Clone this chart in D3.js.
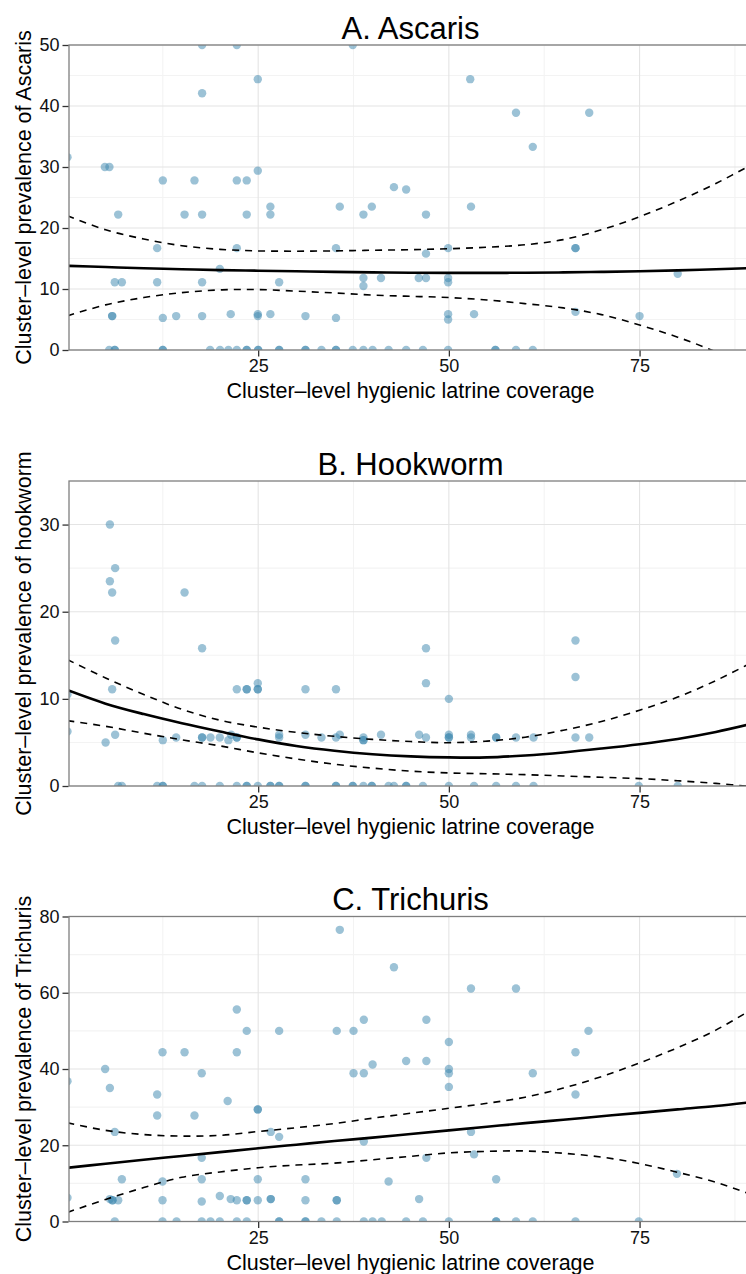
<!DOCTYPE html>
<html>
<head>
<meta charset="utf-8">
<script src="https://cdn.jsdelivr.net/npm/d3@7"></script>
<style>
  html, body { margin: 0; padding: 0; background: #ffffff; }
  svg { display: block; font-family: "Liberation Sans", Arial, Helvetica, sans-serif; }
</style>
</head>
<body>
<svg id="chart" width="746" height="1274"></svg>
<script>
// Cluster-level helminth prevalence (%) against hygienic latrine coverage (%)
const panelTitles = ["A. Ascaris", "B. Hookworm", "C. Trichuris"];
const yTitles = [
  "Cluster\u2013level prevalence of Ascaris",
  "Cluster\u2013level prevalence of hookworm",
  "Cluster\u2013level prevalence of Trichuris"
];
const xTitle = "Cluster\u2013level hygienic latrine coverage";
const xTicks = [25, 50, 75];
const xMinor = [12.5, 37.5, 62.5, 87.5];
const yMaxes = [50, 35, 80];
const yTickSets = [[0, 10, 20, 30, 40, 50], [0, 10, 20, 30], [0, 20, 40, 60, 80]];
const yMinorSets = [[5, 15, 25, 35, 45], [5, 15, 25], [10, 30, 50, 70]];

// [coverage, prevalence] per cluster
const ascarisPoints = [
  [17.65,50],[22.2,50],[37.4,50],[24.95,44.4],[52.8,44.4],[17.65,42.1],[58.8,38.9],[68.4,38.9],
  [61.0,33.3],[0,31.6],[4.9,30],[5.5,30],[12.5,27.8],[16.65,27.8],[22.2,27.8],[23.5,27.8],
  [24.95,29.4],[42.8,26.7],[44.4,26.3],[6.65,22.2],[15.35,22.2],[17.65,22.2],[23.5,22.2],
  [26.6,23.5],[26.6,22.2],[35.7,23.5],[38.8,22.2],[39.9,23.5],[52.9,23.5],[47.0,22.2],
  [11.76,16.7],[22.2,16.7],[35.2,16.7],[47.0,15.8],[49.9,16.7],[66.6,16.7],[66.6,16.7],
  [19.97,13.3],[6.2,11.1],[7.13,11.1],[11.76,11.1],[17.65,11.1],[27.75,11.1],[38.8,11.8],
  [38.8,10.5],[41.1,11.8],[46.05,11.8],[47.0,11.8],[49.9,11.8],[49.9,11.1],[80.0,12.5],
  [5.86,5.56],[5.86,5.56],[12.5,5.26],[14.25,5.56],[17.65,5.56],[21.4,5.88],[24.95,5.56],
  [24.95,5.88],[26.6,5.88],[31.2,5.56],[35.2,5.26],[49.9,5.88],[49.9,5.0],[53.3,5.88],
  [66.6,6.25],[75.0,5.56],
  [5.47,0],[6.2,0],[6.2,0],[12.5,0],[12.5,0],[18.7,0],[20.0,0],[21.1,0],[22.2,0],[23.5,0],
  [23.5,0],[25.0,0],[25.0,0],[27.75,0],[27.75,0],[31.2,0],[31.2,0],[33.3,0],[35.2,0],[35.2,0],
  [37.4,0],[38.8,0],[40.0,0],[42.1,0],[44.4,0],[46.6,0],[49.9,0],[56.1,0],[56.1,0],[58.8,0],[61.0,0]
];
const hookwormPoints = [
  [5.56,30],[6.25,25],[5.56,23.5],[5.86,22.2],[15.35,22.2],[6.25,16.7],[17.65,15.8],[47.0,15.8],
  [66.6,16.7],[47.0,11.8],[66.6,12.5],[50.0,10.0],[5.86,11.1],[22.2,11.1],[23.5,11.1],[23.5,11.1],
  [24.95,11.1],[24.95,11.1],[24.95,11.8],[31.2,11.1],[35.2,11.1],[0,10.5],[0,6.25],[5.0,5.0],
  [6.25,5.88],[12.5,5.26],[14.25,5.56],[17.65,5.56],[17.65,5.56],[18.75,5.56],[19.97,5.56],
  [21.1,5.26],[21.45,5.88],[22.2,5.56],[22.2,5.56],[27.75,5.56],[27.75,5.88],[31.2,5.88],
  [33.3,5.56],[35.2,5.56],[35.7,5.88],[38.8,5.56],[38.8,5.26],[38.8,5.26],[41.1,5.88],[46.1,5.88],
  [47.0,5.56],[50.0,5.88],[50.0,5.56],[50.0,5.56],[52.9,5.88],[52.9,5.56],[56.2,5.56],[56.2,5.56],
  [58.8,5.56],[61.1,5.56],[66.6,5.56],[68.4,5.56],
  [6.65,0],[7.13,0],[11.76,0],[12.5,0],[12.5,0],[16.65,0],[17.65,0],[19.97,0],[22.2,0],[23.5,0],
  [23.5,0],[24.95,0],[26.6,0],[26.6,0],[27.75,0],[27.75,0],[31.2,0],[31.2,0],[35.2,0],[35.2,0],
  [37.4,0],[37.4,0],[38.8,0],[39.9,0],[39.9,0],[42.1,0],[42.8,0],[44.4,0],[44.4,0],[46.6,0],
  [50.0,0],[53.3,0],[56.2,0],[58.8,0],[61.1,0],[74.9,0],[80.0,0]
];
const trichurisPoints = [
  [35.7,76.5],[42.8,66.7],[52.9,61.1],[58.8,61.1],[22.2,55.6],[38.85,52.9],[47.05,52.9],[23.5,50],
  [27.75,50],[35.3,50],[37.5,50],[68.3,50],[50,47.1],[12.46,44.4],[15.35,44.4],[22.2,44.4],
  [66.6,44.4],[44.4,42.1],[47.05,42.1],[40.0,41.2],[4.94,40.0],[50,40],[17.6,38.9],[37.5,38.9],
  [38.85,38.9],[50,38.9],[61.0,38.9],[0,36.8],[5.56,35.0],[50,35.3],[11.76,33.3],[66.6,33.3],
  [21.0,31.6],[24.95,29.4],[24.95,29.4],[11.76,27.8],[16.65,27.8],[6.2,23.5],[26.65,23.5],
  [52.9,23.5],[27.75,22.2],[38.85,21.0],[53.3,17.6],[17.6,16.7],[47.05,16.7],[79.9,12.5],
  [7.13,11.1],[17.6,11.1],[24.95,11.1],[31.2,11.1],[56.2,11.1],[12.46,10.5],[42.1,10.5],
  [19.97,6.7],[0,6.25],[5.56,5.88],[5.9,5.56],[5.9,5.56],[6.65,5.56],[12.46,5.56],[17.6,5.26],
  [21.4,5.88],[22.2,5.56],[23.5,5.56],[23.5,5.56],[24.95,5.56],[26.65,5.88],[26.65,5.88],
  [31.2,5.56],[35.3,5.56],[35.3,5.56],[46.1,5.88],
  [6.2,0],[12.46,0],[14.3,0],[17.6,0],[18.75,0],[19.97,0],[22.2,0],[23.5,0],[27.75,0],[27.75,0],
  [31.2,0],[31.2,0],[33.3,0],[35.3,0],[38.85,0],[40.0,0],[41.2,0],[44.4,0],[46.6,0],[50,0],
  [56.2,0],[56.2,0],[58.8,0],[61.0,0],[66.6,0],[74.9,0]
];

// Fitted curve with 95% confidence band, sampled along coverage
const fitX = [0, 5, 10, 15, 20, 25, 30, 35, 40, 45, 50, 55, 60, 65, 70, 75, 80, 85, 90];
const ascarisFit   = [13.8,13.6,13.4,13.25,13.1,13.0,12.9,12.8,12.72,12.67,12.65,12.65,12.66,12.72,12.8,12.9,13.05,13.25,13.45];
const ascarisUpper = [22.0,19.7,18.2,17.1,16.5,16.25,16.2,16.25,16.35,16.45,16.6,16.85,17.25,18.1,19.7,21.85,24.4,27.3,30.6];
const ascarisLower = [5.6,7.4,8.6,9.4,9.85,9.9,9.65,9.35,9.0,8.8,8.6,8.2,7.6,6.9,5.8,4.1,2.1,-0.3,-3.2];
const hookwormFit   = [11.0,9.45,8.25,7.2,6.25,5.35,4.6,4.05,3.65,3.4,3.28,3.28,3.5,3.85,4.3,4.8,5.4,6.2,7.2];
const hookwormUpper = [14.5,12.4,10.5,8.8,7.55,6.75,6.15,5.7,5.35,5.1,4.97,5.15,5.6,6.4,7.4,8.7,10.2,12.1,14.3];
const hookwormLower = [7.5,6.85,6.05,5.3,4.6,3.8,3.1,2.5,2.05,1.7,1.5,1.4,1.3,1.15,1.0,0.85,0.6,0.3,-0.1];
const trichurisFit   = [14.1,15.15,16.2,17.2,18.2,19.2,20.15,21.1,22.0,22.95,23.9,24.85,25.8,26.7,27.6,28.5,29.4,30.3,31.4];
const trichurisUpper = [25.9,23.9,22.8,22.4,22.6,23.6,24.6,25.7,27.1,28.4,29.7,31.0,32.6,35.0,38.0,41.6,45.6,50.2,56.0];
const trichurisLower = [2.4,5.8,8.9,11.6,13.0,14.1,14.8,15.3,16.2,17.1,18.0,18.4,18.5,17.9,16.9,15.2,12.9,10.3,6.8];

const panelPoints = [ascarisPoints, hookwormPoints, trichurisPoints];
const panelFits = [
  [ascarisFit, ascarisUpper, ascarisLower],
  [hookwormFit, hookwormUpper, hookwormLower],
  [trichurisFit, trichurisUpper, trichurisLower]
];

const svg = d3.select("#chart");
const plotLeft = 69, plotRight = 752, plotHeight = 305;
const panelTops = [45, 481, 916.5];

const x = d3.scaleLinear().domain([0.2, 89.74]).range([plotLeft, plotRight]);

panelTops.forEach((top, i) => {
  const bottom = top + plotHeight;
  const y = d3.scaleLinear().domain([0, yMaxes[i]]).range([bottom, top]);
  const g = svg.append("g");

  // grid
  const grid = g.append("g");
  grid.selectAll(".ymin").data(yMinorSets[i]).join("line")
    .attr("x1", plotLeft).attr("x2", plotRight)
    .attr("y1", d => y(d)).attr("y2", d => y(d))
    .attr("stroke", "#f3f3f3").attr("stroke-width", 1.1);
  grid.selectAll(".xmin").data(xMinor).join("line")
    .attr("x1", d => x(d)).attr("x2", d => x(d))
    .attr("y1", top).attr("y2", bottom)
    .attr("stroke", "#f3f3f3").attr("stroke-width", 1.1);
  grid.selectAll(".ymaj").data(yTickSets[i]).join("line")
    .attr("x1", plotLeft).attr("x2", plotRight)
    .attr("y1", d => y(d)).attr("y2", d => y(d))
    .attr("stroke", "#e4e4e4").attr("stroke-width", 1.1);
  grid.selectAll(".xmaj").data(xTicks).join("line")
    .attr("x1", d => x(d)).attr("x2", d => x(d))
    .attr("y1", top).attr("y2", bottom)
    .attr("stroke", "#e4e4e4").attr("stroke-width", 1.1);

  // clip region for the panel
  const clipId = "clip" + i;
  svg.append("clipPath").attr("id", clipId)
    .append("rect").attr("x", plotLeft).attr("y", top)
    .attr("width", plotRight - plotLeft).attr("height", plotHeight);

  const inner = g.append("g").attr("clip-path", `url(#${clipId})`);

  // points
  inner.selectAll("circle").data(panelPoints[i]).join("circle")
    .attr("cx", d => x(d[0])).attr("cy", d => y(d[1])).attr("r", 4.2)
    .attr("fill", "#3986ad").attr("fill-opacity", 0.5);

  // fitted curve and confidence limits
  const line = d3.line()
    .x((d, k) => x(fitX[k])).y(d => y(d))
    .curve(d3.curveCatmullRom.alpha(0.5));
  const [fit, upper, lower] = panelFits[i];
  [upper, lower].forEach(arr => {
    inner.append("path").datum(arr).attr("d", line)
      .attr("fill", "none").attr("stroke", "#000")
      .attr("stroke-width", 1.6).attr("stroke-dasharray", "7,6");
  });
  inner.append("path").datum(fit).attr("d", line)
    .attr("fill", "none").attr("stroke", "#000").attr("stroke-width", 2.6);

  // panel border
  g.append("rect").attr("x", plotLeft).attr("y", top)
    .attr("width", plotRight - plotLeft).attr("height", plotHeight)
    .attr("fill", "none").attr("stroke", "#7f7f7f").attr("stroke-width", 1.3);

  // axes
  const yAxis = d3.axisLeft(y).tickValues(yTickSets[i]).tickSize(6).tickPadding(3).tickFormat(d3.format("d"));
  const ya = g.append("g").attr("transform", `translate(${plotLeft - 0.5},0)`).call(yAxis);
  const xAxis = d3.axisBottom(x).tickValues(xTicks).tickSize(6).tickPadding(3).tickFormat(d3.format("d"));
  const xa = g.append("g").attr("transform", `translate(0,${bottom + 0.5})`).call(xAxis);
  [ya, xa].forEach(a => {
    a.select(".domain").remove();
    a.selectAll(".tick line").attr("stroke", "#333").attr("stroke-width", 1.3);
    a.selectAll(".tick text").attr("font-size", 18).attr("fill", "#111")
      .attr("font-family", "\"Liberation Sans\", Arial, Helvetica, sans-serif");
  });

  // titles
  g.append("text").attr("x", (plotLeft + plotRight) / 2).attr("y", top - 6.5)
    .attr("text-anchor", "middle").attr("font-size", 31).attr("fill", "#000")
    .text(panelTitles[i]);
  g.append("text").attr("x", (plotLeft + plotRight) / 2).attr("y", bottom + 48)
    .attr("text-anchor", "middle").attr("font-size", 21.5).attr("fill", "#000")
    .text(xTitle);
  g.append("text")
    .attr("transform", `translate(31,${top + plotHeight / 2}) rotate(-90)`)
    .attr("text-anchor", "middle").attr("font-size", 21.5).attr("fill", "#000")
    .text(yTitles[i]);
});
</script>
</body>
</html>
